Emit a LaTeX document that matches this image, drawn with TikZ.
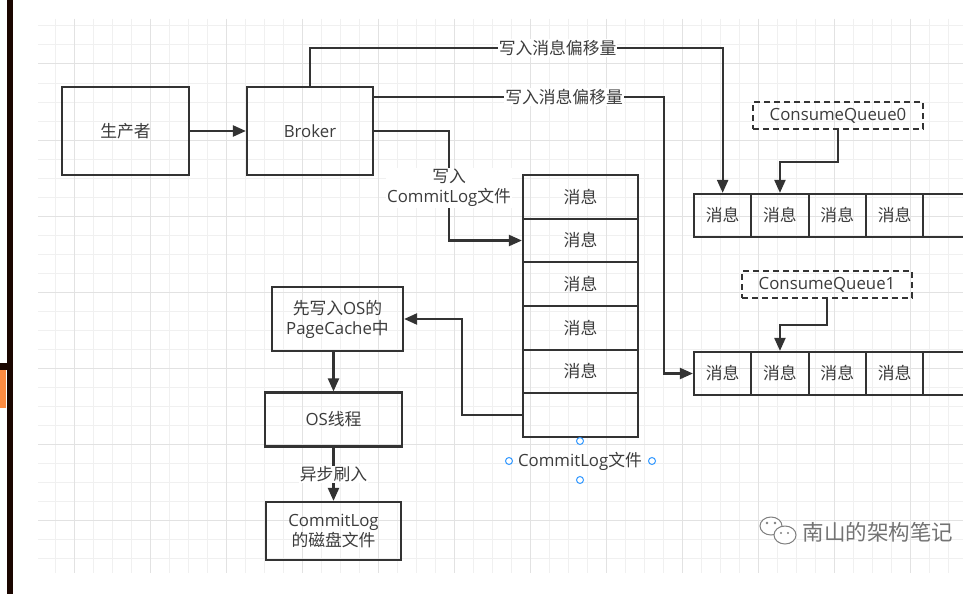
\documentclass[tikz,border=0pt]{standalone}
\usepackage{fontspec}
\setmainfont{Open Sans}
\newfontfamily\cjk{Noto Sans CJK SC}
\usepackage{xcolor}
\usetikzlibrary{arrows.meta}
\usetikzlibrary{math}
\definecolor{myline}{RGB}{51,51,51}
\definecolor{mytext}{RGB}{60,60,60}
\definecolor{mygrid}{RGB}{240,240,240}
\definecolor{mygridmajor}{RGB}{226,226,226}
\definecolor{myblue}{RGB}{51,153,255}
\definecolor{myorange}{RGB}{255,140,66}
\definecolor{mybar}{RGB}{26,6,0}
\newcommand\fs{\fontsize{16.8}{20}\selectfont}

\tikzset{
box/.style={draw=myline, line width=2.2pt, text=mytext, font=\fs, align=center, inner sep=0pt},
dbox/.style={box, dash pattern=on 6pt off 4pt},
arr/.style={draw=myline, line width=2.2pt, -{Triangle[length=13pt,width=11pt]}},
lbl/.style={fill=white, text=mytext, font=\fs, align=center, inner sep=1pt},
handle/.style={circle, draw=myblue, line width=1pt, minimum size=7pt, inner sep=0pt}
}

\begin{document}
\begin{tikzpicture}[x=1pt,y=-1pt]
\tikzmath{
\ch=43.67;
\qw=57.3;
\qh=43;
}
\useasboundingbox (0,0) rectangle (963,594);
\clip (0,0) rectangle (963,594);
\fill[white] (0,0) rectangle (963,594);

%grid
\foreach \gx in {55,74,...,963} \draw[mygrid, line width=1pt] (\gx,19) -- (\gx,573);
\foreach \gy in {26,45,...,573} \draw[mygrid, line width=1pt] (38,\gy) -- (963,\gy);
\foreach \gx in {74,150,...,963} \draw[mygridmajor, line width=1pt] (\gx,19) -- (\gx,573);
\foreach \gy in {64,140,...,573} \draw[mygridmajor, line width=1pt] (38,\gy) -- (963,\gy);

%left bar
\fill[mybar] (7,0) rectangle (13,594);
\fill[mybar] (0,363) rectangle (13,370);
\fill[myorange] (0,370) rectangle (6,408);

%producer and broker
\node[box, minimum width=127, minimum height=88] (prod) at (125.5,131) {\cjk 生产者};
\node[box, minimum width=126, minimum height=88] (broker) at (310,131) {Broker};

%commitlog
\foreach \i in {1,...,5}
  \node[box, minimum width=115, minimum height=\ch] (cl\i) at (580.5,{175+\ch*(\i-0.5)}) {\cjk 消息};
\node[box, minimum width=115, minimum height=\ch] (cl6) at (580.5,{175+\ch*5.5}) {};
\node[text=mytext, font=\fs] (cllabel) at (580,461) {CommitLog{\cjk 文件}};
\node[handle] (h1) at (580,441) {};
\node[handle] (h2) at (580,480) {};
\node[handle] (h3) at (509,461) {};
\node[handle] (h4) at (652,461) {};

%consume queues
\foreach \i in {1,...,4}{
  \node[box, minimum width=\qw, minimum height=\qh] (q0\i) at ({694+\qw*(\i-0.5)},215.5) {\cjk 消息};
  \node[box, minimum width=\qw, minimum height=\qh] (q1\i) at ({694+\qw*(\i-0.5)},373.5) {\cjk 消息};
}
\node[box, minimum width=\qw, minimum height=\qh] (q05) at ({694+\qw*4.5},215.5) {};
\node[box, minimum width=\qw, minimum height=\qh] (q15) at ({694+\qw*4.5},373.5) {};
\node[dbox, minimum width=170, minimum height=27] (cq0) at (838,115.5) {ConsumeQueue0};
\node[dbox, minimum width=170, minimum height=27] (cq1) at (827,284.5) {ConsumeQueue1};

%os side
\node[box, minimum width=131, minimum height=64] (pc) at (337.5,319) {{\cjk 先写入}OS{\cjk 的}\\PageCache{\cjk 中}};
\node[box, minimum width=137, minimum height=54] (os) at (333.5,419.5) {OS{\cjk 线程}};
\node[box, minimum width=135, minimum height=58] (disk) at (333.5,531) {CommitLog\\{\cjk 的磁盘文件}};

%arrows
\draw[arr] (prod) -- (broker);
\draw[arr] (broker.north) -- ++(0,-38) -| (q01.north) node[pos=0.3, lbl] {\cjk 写入消息偏移量};
\draw[arr] ([yshift=34pt]broker.east) -- ++(290,0) node[pos=0.655, lbl] {\cjk 写入消息偏移量} |- (q11.west);
\draw[arr] (broker.east) -- ++(75,0) |- (cl2.west) node[pos=0.26, lbl] {{\cjk 写入}\\CommitLog{\cjk 文件}};
\draw[arr] (cl6.west) -- ++(-60,0) |- (pc.east);
\draw[arr] (os.north |- pc.south) -- (os.north);
\draw[arr] (os.south) -- (disk.north) node[midway, lbl] {\cjk 异步刷入};
\draw[arr] (cq0.south) -- ++(0,32) -| (q02.north);
\draw[arr] (cq1.south) -- ++(0,26) -| (q12.north);

%watermark
\draw[gray, fill=white, line width=1pt] (771,526) ellipse (11 and 9);
\draw[gray, fill=white, line width=1pt] (785,535) ellipse (11 and 9);
\fill[gray] (767,523) circle (1.3) (775,523) circle (1.3) (781,533) circle (1.1) (788,533) circle (1.1);
\node[anchor=west, text=gray!90!black, font=\cjk\fontsize{21.5}{24}\selectfont] (wm) at (799,532) {南山的架构笔记};
\end{tikzpicture}
\end{document}
